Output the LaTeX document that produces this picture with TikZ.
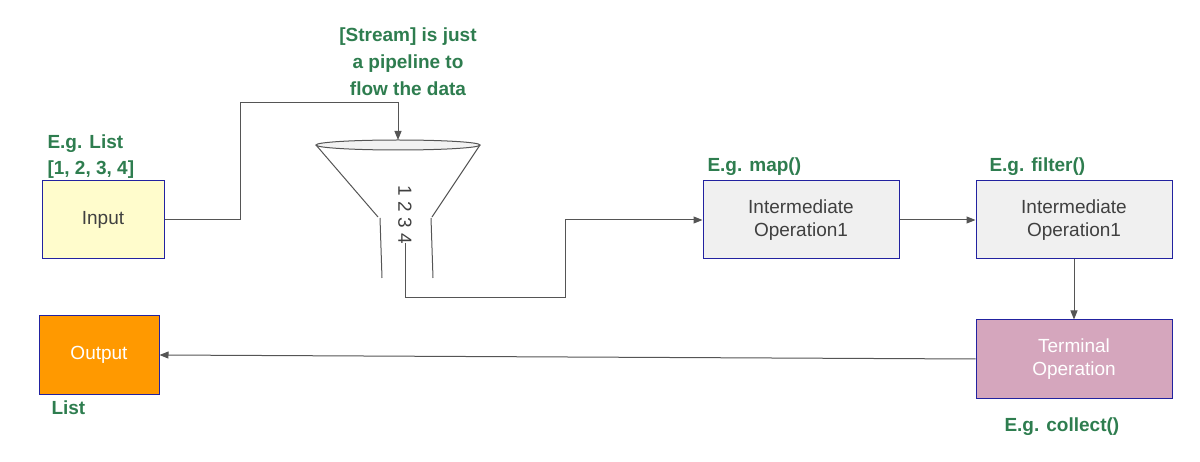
\documentclass[tikz,border=0pt]{standalone}
\usepackage{fontspec}
\setmainfont{Liberation Sans}
\usetikzlibrary{arrows.meta}
\definecolor{grn}{HTML}{2E7D4F}
\definecolor{bdr}{HTML}{2222A0}
\definecolor{ln}{HTML}{555555}
\begin{document}
\begin{tikzpicture}[x=1pt,y=-1pt,
  box/.style={draw=bdr,line width=1pt,minimum width=#1,minimum height=78pt,align=center,font=\fontsize{19}{23}\selectfont,text=black!75},
  lbl/.style={text=grn,font=\bfseries\fontsize{19}{26}\selectfont,align=left,anchor=west},
  con/.style={draw=ln,line width=1pt},
  arr/.style={con,-{Triangle[length=9pt,width=7pt]}}]
\useasboundingbox (0,0) rectangle (1200,462);
\node[box=122pt,fill=yellow!20!white] (in) at (103,220) {Input};
\node[box=196pt,fill=gray!12] (i1) at (801,220) {Intermediate\\Operation1};
\node[box=196pt,fill=gray!12] (i2) at (1074,220) {Intermediate\\Operation1};
\node[box=196pt,fill={rgb,255:red,213;green,166;blue,189},text=white] (t) at (1074,359) {Terminal\\Operation};
\node[box=120pt,fill={rgb,255:red,255;green,153;blue,0},text=white] (out) at (99,355) {Output};
\node[lbl] (l1) at (44,157) {E.g. List\\{[}1, 2, 3, 4{]}};
\node[lbl] (l2) at (704,167) {E.g. map()};
\node[lbl] (l3) at (986,167) {E.g. filter()};
\node[lbl] (l4) at (1001,427) {E.g. collect()};
\node[lbl] (l5) at (48,408) {List};
\node[text=grn,font=\bfseries\fontsize{19}{27}\selectfont,align=center] (title) at (408,62) {[Stream] is just\\a pipeline to\\flow the data};
% funnel
\draw[ln,line width=1pt,fill=gray!10] (398,145) ellipse (82 and 5);
\coordinate (ftop) at (398,140);
\draw[con] (316,145) -- (378,217) (480,145) -- (432,217) (380,218) -- (382,278) (431,218) -- (433,278);
\node[rotate=-90,font=\fontsize{19}{23}\selectfont,text=black!75] (nums) at (405,215) {1 2 3 4};
\coordinate (fout) at (405,243);
\draw[arr] (in.east) -- (240,220) -- (240,103) -- (398,103) -- (ftop);
\draw[arr] (fout) -- (405,298) -- (565,298) -- (565,220) -- (i1.west);
\draw[arr] (i1.east) -- (i2.west);
\draw[arr] (i2.south) -- (t.north);
\draw[arr] (t.west) -- (out.east);
\end{tikzpicture}
\end{document}
